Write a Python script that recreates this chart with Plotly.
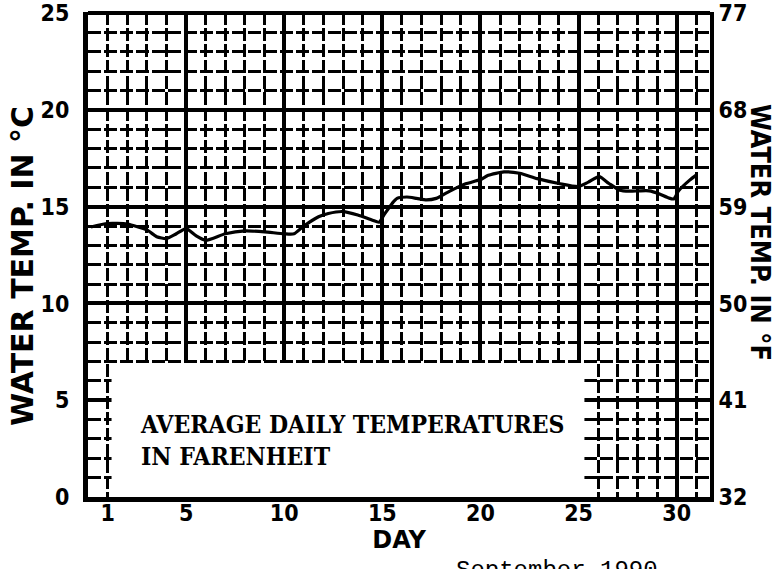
import plotly.graph_objects as go

# ---- data ----
DAY = [0.15, 1, 2, 3, 3.5, 4, 4.5, 5, 5.5, 6, 7, 8, 9, 10, 10.5, 11, 11.75, 12.25,
       13, 13.75, 14.5, 14.83, 15.08, 15.5, 15.75, 16.25, 16.75, 17.25, 17.75, 18.25,
       18.75, 19.25, 20, 20.4, 21.2, 22, 22.9, 24, 25, 25.5, 26.05, 26.55, 27.1, 27.6,
       28.1, 28.6, 29.1, 29.6, 29.85, 30.1, 30.65, 31.05]
TEMP_C = [13.95, 14.13, 14.1, 13.8, 13.45, 13.35, 13.6, 13.87, 13.5, 13.26, 13.6, 13.75,
          13.7, 13.6, 13.6, 14.0, 14.48, 14.65, 14.75, 14.57, 14.3, 14.2, 14.57, 15.17,
          15.43, 15.5, 15.43, 15.35, 15.43, 15.7, 15.96, 16.18, 16.4, 16.62, 16.8, 16.73,
          16.45, 16.2, 16.04, 16.27, 16.55, 16.2, 15.85, 15.8, 15.82, 15.82, 15.67, 15.45,
          15.4, 15.82, 16.36, 16.67]
TEMP_F = [t * 9 / 5 + 32 for t in TEMP_C]

DAY_TICKS = [1, 5, 10, 15, 20, 25, 30]
DAY_TICK_TEXT = ["1", "5", "10", "15", "20", "25", "30"]
MAJOR_DAYS = [5, 10, 15, 20, 25, 30]
C_TICKS = [0, 5, 10, 15, 20, 25]
F_TICKS = [32, 41, 50, 59, 68, 77]

X_RANGE = [0, 31.7]
C_RANGE = [0, 25.06]
F_RANGE = [32, 32 + 25.06 * 9 / 5]

NARROW = "Liberation Sans Narrow, DejaVu Sans Condensed, sans-serif"
BOLD_SANS = "DejaVu Sans, sans-serif"

fig = go.Figure()
fig.add_trace(go.Scatter(
    x=DAY, y=TEMP_C, mode="lines",
    line=dict(color="black", width=3.2, shape="spline", smoothing=0.6),
    showlegend=False, hoverinfo="skip"))
# same series in Fahrenheit on the right-hand scale (transparent, defines the right axis)
fig.add_trace(go.Scatter(
    x=DAY, y=TEMP_F, mode="lines", xaxis="x2", yaxis="y2",
    line=dict(color="rgba(0,0,0,0)", width=1),
    showlegend=False, hoverinfo="skip"))

minor_grid = dict(dtick=1, tick0=0, showgrid=True, gridcolor="black",
                  gridwidth=2.5, griddash="13px,3px", ticks="")

tick_font = dict(family=NARROW, size=23, color="black", weight="bold")

fig.update_layout(
    width=780, height=569,
    margin=dict(l=88, r=70, t=12, b=72),
    paper_bgcolor="white", plot_bgcolor="white",
    xaxis=dict(range=X_RANGE, tickmode="array", tickvals=MAJOR_DAYS,
               showticklabels=False, ticks="",
               showgrid=True, gridcolor="black", gridwidth=3.5,
               minor=minor_grid, zeroline=False,
               showline=True, linecolor="black", linewidth=5),
    xaxis2=dict(range=X_RANGE, overlaying="x", side="bottom", anchor="y",
                tickmode="array", tickvals=DAY_TICKS, ticktext=DAY_TICK_TEXT,
                ticks="", showgrid=False, zeroline=False, showline=False,
                tickfont=tick_font, ticklabeloverflow="allow",
                title=dict(text="DAY", standoff=6,
                           font=dict(family=BOLD_SANS, size=24, color="black", weight="bold")),
                automargin=False),
    yaxis=dict(range=C_RANGE, tickmode="array", tickvals=C_TICKS,
               ticks="", showgrid=True, gridcolor="black", gridwidth=3.5,
               minor=minor_grid, zeroline=False,
               showline=True, linecolor="black", linewidth=5,
               tickfont=tick_font, ticklabelstandoff=9, ticklabeloverflow="allow",
               automargin=False),
    yaxis2=dict(range=F_RANGE, overlaying="y", side="right", anchor="x2",
                tickmode="array", tickvals=F_TICKS, ticks="",
                showgrid=False, zeroline=False,
                showline=True, linecolor="black", linewidth=4,
                tickfont=tick_font, ticklabeloverflow="allow",
                automargin=False),
)

# blank area of the graph paper holding the caption
fig.add_shape(type="rect", xref="x", yref="y", x0=1.2, x1=25.3, y0=0, y1=6.93,
              fillcolor="white", line=dict(width=0), layer="between")

fig.add_annotation(text="WATER TEMP. IN °C", xref="paper", yref="paper",
                   x=(22 - 88) / 622, y=(497 - 266) / 485, textangle=-90,
                   xanchor="center", yanchor="middle", showarrow=False,
                   font=dict(family=BOLD_SANS, size=30, color="black", weight="bold"))
fig.add_annotation(text="WATER TEMP. IN °F", xref="paper", yref="paper",
                   x=(761 - 88) / 622, y=(497 - 232) / 485, textangle=90,
                   xanchor="center", yanchor="middle", showarrow=False,
                   font=dict(family="DejaVu Sans Condensed, sans-serif", size=27,
                             color="black", weight="bold"))
fig.add_annotation(text="AVERAGE DAILY TEMPERATURES<br>IN FARENHEIT",
                   xref="paper", yref="paper", x=(138 - 88) / 622, y=(497 - 408) / 485,
                   xanchor="left", yanchor="top", align="left", showarrow=False,
                   font=dict(family="DejaVu Serif Condensed, DejaVu Serif, serif",
                             size=24.5, color="black", weight="bold"))
fig.add_annotation(text="September 1990", xref="paper", yref="paper",
                   x=(660 - 88) / 622, y=(497 - 555) / 485,
                   xanchor="right", yanchor="top", showarrow=False,
                   font=dict(family="Liberation Mono, Courier New, monospace",
                             size=24, color="black"))

# remove the page's default body margin so the figure fills the window exactly
fig.write_html("out.html", config={"displayModeBar": False},
               post_script="document.body.style.margin='0';")
